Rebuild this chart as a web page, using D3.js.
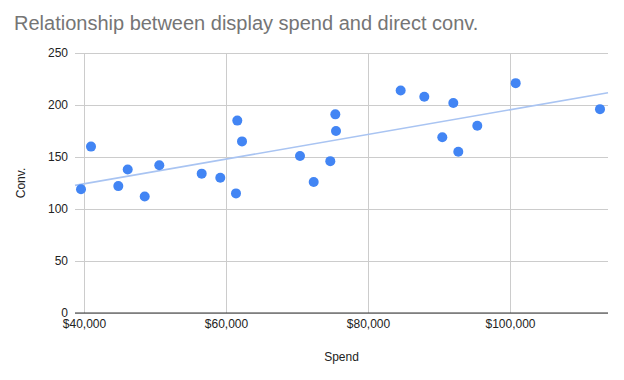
<!DOCTYPE html>
<html><head><meta charset="utf-8">
<script src="https://cdn.jsdelivr.net/npm/d3@7"></script>
<style>body{margin:0;background:#fff}svg{display:block}text{font-family:"Liberation Sans",Arial,sans-serif}</style>
</head><body><svg id="c" width="624" height="380"></svg>
<script>
const spend = [39577,40986,44831,46155,48549,50606,56577,59197,61592,62254,61408,
  75398,75493,70423,74690,72352,84601,87930,92014,90465,92718,95394,100803,112676];
const conv = [119,160,122,138,112,142,134,130,185,165,115,
  191,175,151,146,126,214,208,202,169,155,180,221,196];
const xTicks = [40000,60000,80000,100000];
const yTicks = [0,50,100,150,200,250];
const title = "Relationship between display spend and direct conv.";
const xLabel = "Spend", yLabel = "Conv.";

const svg = d3.select("#c");
const L=75,R=608,T=53,B=313;
const x = d3.scaleLinear().domain([38732,113803]).range([L,R]);
const y = d3.scaleLinear().domain([0,250]).range([B,T]);

svg.append("text").attr("x",14).attr("y",30).attr("font-size",20).attr("fill","#757575").text(title);

// y grid + labels
const ya = svg.append("g").attr("transform",`translate(${L},0)`)
  .call(d3.axisLeft(y).tickValues(yTicks).tickSize(-(R-L)).tickPadding(7));
ya.select(".domain").remove();
ya.selectAll(".tick line").attr("stroke","#cccccc");
ya.selectAll(".tick text").attr("font-size",12).attr("fill","#222").attr("font-family","Liberation Sans, Arial, sans-serif");

// x grid + labels
const xa = svg.append("g").attr("transform",`translate(0,${B})`)
  .call(d3.axisBottom(x).tickValues(xTicks).tickSize(-(B-T)).tickPadding(6).tickFormat(d=>"$"+d3.format(",")(d)));
xa.select(".domain").remove();
xa.selectAll(".tick line").attr("stroke","#cccccc");
xa.selectAll(".tick text").attr("font-size",12).attr("fill","#222").attr("font-family","Liberation Sans, Arial, sans-serif");

// baseline
svg.append("line").attr("x1",L).attr("x2",R).attr("y1",y(0)).attr("y2",y(0)).attr("stroke","#333").attr("stroke-width",1);

// trendline (least squares)
const n=spend.length, mx=d3.mean(spend), my=d3.mean(conv);
let sxy=0,sxx=0; for(let i=0;i<n;i++){sxy+=(spend[i]-mx)*(conv[i]-my);sxx+=(spend[i]-mx)**2;}
const b=sxy/sxx, a=my-b*mx;
const [d0,d1]=x.domain();
svg.append("line").attr("x1",x(d0)).attr("x2",x(d1)).attr("y1",y(a+b*d0)).attr("y2",y(a+b*d1))
  .attr("stroke","#a9c4f2").attr("stroke-width",1.6);

// points
svg.append("g").selectAll("circle").data(spend).join("circle")
  .attr("cx",d=>x(d)).attr("cy",(d,i)=>y(conv[i])).attr("r",5).attr("fill","#4285f4");

svg.append("text").attr("x",(L+R)/2).attr("y",361).attr("text-anchor","middle").attr("font-size",12).attr("fill","#222").text(xLabel);
svg.append("text").attr("transform",`translate(25,${(T+B)/2}) rotate(-90)`).attr("text-anchor","middle").attr("font-size",12).attr("fill","#222").text(yLabel);
</script></body></html>
